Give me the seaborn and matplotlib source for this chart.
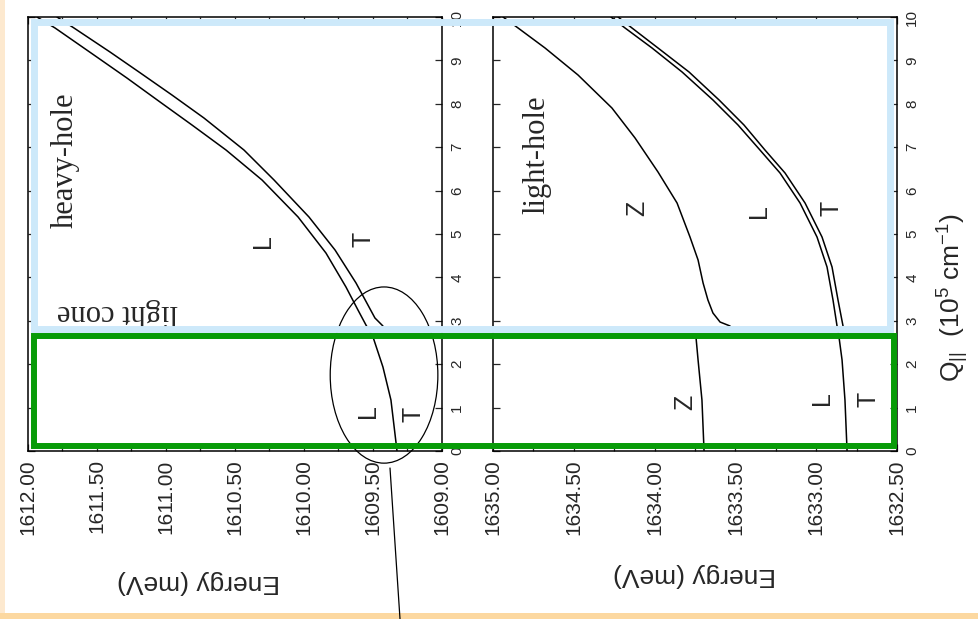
import numpy as np
import pandas as pd
import matplotlib
matplotlib.use("Agg")
import matplotlib.pyplot as plt
import seaborn as sns
from matplotlib.patches import Rectangle, Ellipse
from matplotlib.lines import Line2D
from matplotlib.ticker import MultipleLocator, FormatStrFormatter

# heavy-hole exciton polariton branches: energy (meV) vs Q (10^5 cm^-1)
hh_L_E = [1609.326, 1609.370, 1609.428, 1609.500, 1609.551, 1609.609, 1609.696, 1609.841,
          1610.043, 1610.304, 1610.565, 1610.812, 1611.043, 1611.283, 1611.522, 1611.804, 1611.935]
hh_L_Q = [0.00, 1.175, 1.935, 2.627, 2.903, 3.249, 3.779, 4.562,
          5.392, 6.244, 6.935, 7.512, 8.041, 8.594, 9.124, 9.747, 10.0]
hh_T_E = [1609.428, 1609.486, 1609.529, 1609.623, 1609.775, 1609.964, 1610.217,
          1610.435, 1610.725, 1610.957, 1611.196, 1611.406, 1611.667, 1611.790]
hh_T_Q = [2.880, 3.065, 3.318, 3.871, 4.631, 5.392, 6.244,
          6.935, 7.673, 8.203, 8.733, 9.194, 9.747, 10.0]

# light-hole exciton polariton branches
lh_Z1_E = [1633.694, 1633.707, 1633.731, 1633.744]
lh_Z1_Q = [0.00, 1.175, 2.097, 2.627]
lh_Z2_E = [1633.533, 1633.595, 1633.639, 1633.670, 1633.700, 1633.731, 1633.781, 1633.861,
           1633.979, 1634.121, 1634.264, 1634.474, 1634.678, 1634.845, 1634.938]
lh_Z2_Q = [2.880, 2.972, 3.180, 3.479, 3.871, 4.401, 4.931, 5.714,
           6.429, 7.212, 7.903, 8.664, 9.286, 9.747, 10.0]
lh_L_E = [1632.809, 1632.822, 1632.840, 1632.859, 1632.871, 1632.896, 1632.933, 1632.995,
          1633.100, 1633.224, 1633.348, 1633.484, 1633.639, 1633.830, 1634.016, 1634.183, 1634.270]
lh_L_Q = [0.00, 1.175, 2.097, 2.627, 2.880, 3.479, 4.240, 4.931,
          5.714, 6.406, 6.935, 7.512, 8.088, 8.733, 9.286, 9.747, 10.0]
lh_T_E = [1632.834, 1632.865, 1632.902, 1632.964, 1633.069, 1633.193, 1633.317,
          1633.447, 1633.601, 1633.787, 1633.979, 1634.140, 1634.226]
lh_T_Q = [2.880, 3.479, 4.240, 4.931, 5.714, 6.406, 6.935,
          7.512, 8.088, 8.733, 9.286, 9.747, 10.0]

hh_ticks = [1612.0, 1611.5, 1611.0, 1610.5, 1610.0, 1609.5, 1609.0]
lh_ticks = [1635.0, 1634.5, 1634.0, 1633.5, 1633.0, 1632.5]
q_ticks = list(range(0, 11))


def branches(pairs):
    frames = []
    for name, e, q in pairs:
        frames.append(pd.DataFrame({"E": e, "Q": q, "branch": name}))
    return pd.concat(frames, ignore_index=True)


hh = branches([("L", hh_L_E, hh_L_Q), ("T", hh_T_E, hh_T_Q)])
lh = branches([("Z1", lh_Z1_E, lh_Z1_Q), ("Z2", lh_Z2_E, lh_Z2_Q),
               ("L", lh_L_E, lh_L_Q), ("T", lh_T_E, lh_T_Q)])

sns.set_style("ticks")
plt.rcParams['font.family'] = ['Liberation Sans', 'DejaVu Sans']
plt.rcParams['mathtext.default'] = 'regular'

W, H = 979, 619
fig = plt.figure(figsize=(W / 100, H / 100), dpi=100)
fig.patch.set_facecolor('white')


def box(x0, y0, x1, y1):
    return [x0 / W, 1 - y1 / H, (x1 - x0) / W, (y1 - y0) / H]


ax1 = fig.add_axes(box(28, 17, 442, 451))
ax2 = fig.add_axes(box(493, 17, 897, 451))

for ax, df, ticks, lim in [(ax1, hh, hh_ticks, (1612.0, 1609.0)),
                           (ax2, lh, lh_ticks, (1635.0, 1632.5))]:
    sns.lineplot(data=df, x="E", y="Q", units="branch", estimator=None, sort=False,
                 color="black", lw=1.1, ax=ax, legend=False)
    ax.set_xlim(*lim)
    ax.set_ylim(0, 10)
    ax.set_xticks(ticks)
    ax.xaxis.set_minor_locator(MultipleLocator(0.25))
    ax.xaxis.set_major_formatter(FormatStrFormatter('%.2f'))
    ax.set_yticks(q_ticks)
    ax.set_xlabel("")
    ax.set_ylabel("")
    ax.tick_params(axis='x', which='both', direction='in', top=True, bottom=True,
                   length=5, width=0.9, labelsize=15, pad=6)
    ax.tick_params(axis='y', which='both', direction='in', left=True, right=True,
                   labelleft=False, labelright=True, length=5, width=0.9,
                   labelsize=11, pad=6)
    for lab in ax.get_xticklabels():
        lab.set_rotation(90)
        lab.set_ha('center')
        lab.set_va('top')
    for lab in ax.get_yticklabels():
        lab.set_rotation(90)
        lab.set_ha('left')
        lab.set_va('center')
    for s in ax.spines.values():
        s.set_linewidth(1.1)
        s.set_color('black')

# branch labels
lab_kw = dict(rotation=90, ha='center', va='center', fontsize=18)
ax1.text(1610.297, 4.84, "L", **lab_kw)
ax1.text(1609.572, 4.88, "T", **lab_kw)
ax1.text(1609.536, 0.92, "L", **lab_kw)
ax1.text(1609.203, 0.85, "T", **lab_kw)
ax2.text(1634.109, 5.60, "Z", **lab_kw)
ax2.text(1633.354, 5.53, "L", **lab_kw)
ax2.text(1632.908, 5.60, "T", **lab_kw)
ax2.text(1633.812, 1.13, "Z", **lab_kw)
ax2.text(1632.964, 1.22, "L", **lab_kw)
ax2.text(1632.679, 1.18, "T", **lab_kw)

serif = ['Liberation Serif', 'DejaVu Serif']
ax1.text(1611.732, 6.70, "heavy-hole", rotation=90, ha='center', va='center',
         fontsize=22, family=serif)
ax1.text(1611.355, 3.20, "light cone", rotation=180, ha='center', va='center',
         fontsize=22, family=serif)
ax2.text(1634.728, 6.82, "light-hole", rotation=90, ha='center', va='center',
         fontsize=22, family=serif)

# circled region near the light cone
ax1.add_patch(Ellipse((1609.42, 1.75), 0.78, 4.06, fill=False, lw=0.9,
                      color='black', clip_on=False, zorder=4))
fig.add_artist(Line2D([390 / W, 400 / W], [1 - 468 / H, 0], transform=fig.transFigure,
                      color='black', lw=0.9))

# axis titles
fig.text(198 / W, 1 - 582 / H, "Energy (meV)", rotation=180, ha='center', va='center',
         fontsize=19)
fig.text(695 / W, 1 - 575 / H, "Energy (meV)", rotation=180, ha='center', va='center',
         fontsize=19)
fig.text(953 / W, 1 - 298 / H, r"$Q_{||}$  (10$^{5}$ cm$^{-1}$)", rotation=90,
         ha='center', va='center', fontsize=19)

# highlight frames
fig.add_artist(Rectangle((34.5 / W, 1 - 329.5 / H), 855 / W, 307 / H, fill=False,
                         lw=5.0, edgecolor='#cde9fa', transform=fig.transFigure, zorder=5))
fig.add_artist(Rectangle((34 / W, 1 - 446 / H), 860 / W, 110 / H, fill=False,
                         lw=4.3, edgecolor='#079b07', transform=fig.transFigure, zorder=6))

# slide background edges
fig.add_artist(Rectangle((0, 0), 5 / W, 1, color='#fde9cf', lw=0,
                         transform=fig.transFigure, zorder=-1))
fig.add_artist(Rectangle((0, 0), 1, 6 / H, color='#fcd8a0', lw=0,
                         transform=fig.transFigure, zorder=-1))

fig.savefig("out.png", dpi=100)
